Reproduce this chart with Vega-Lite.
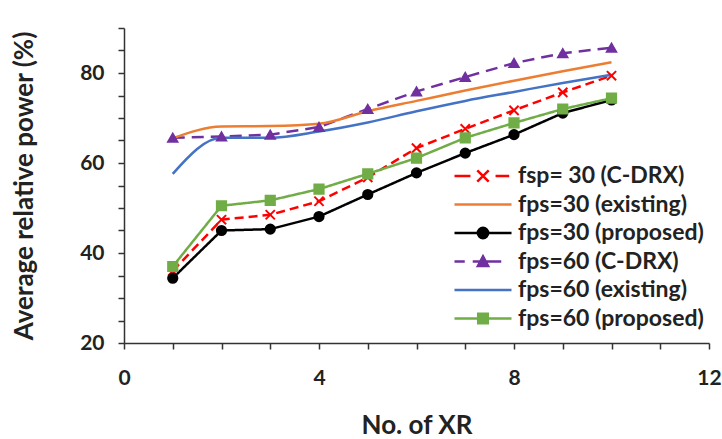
{
  "$schema": "https://vega.github.io/schema/vega-lite/v6.json",
  "width": 585,
  "height": 315,
  "autosize": {"type": "none"},
  "padding": {"left": 124, "top": 28, "right": 13, "bottom": 96},
  "background": "white",
  "config": {
    "view": {"stroke": null},
    "font": "Lato",
    "axis": {
      "grid": false,
      "domainColor": "#333333",
      "domainWidth": 1.5,
      "tickColor": "#333333",
      "tickWidth": 1.5,
      "tickSize": 6,
      "labelFont": "Lato",
      "labelFontSize": 21,
      "labelFontWeight": "bold",
      "labelColor": "#222222",
      "titleFont": "Lato",
      "titleFontSize": 26,
      "titleFontWeight": "bold",
      "titleColor": "#222222"
    }
  },
  "data": {
    "values": [
      {"series": "fsp= 30 (C-DRX)", "xr": 1, "power": 36.0},
      {"series": "fsp= 30 (C-DRX)", "xr": 2, "power": 47.4},
      {"series": "fsp= 30 (C-DRX)", "xr": 3, "power": 48.5},
      {"series": "fsp= 30 (C-DRX)", "xr": 4, "power": 51.5},
      {"series": "fsp= 30 (C-DRX)", "xr": 5, "power": 56.8},
      {"series": "fsp= 30 (C-DRX)", "xr": 6, "power": 63.3},
      {"series": "fsp= 30 (C-DRX)", "xr": 7, "power": 67.6},
      {"series": "fsp= 30 (C-DRX)", "xr": 8, "power": 71.7},
      {"series": "fsp= 30 (C-DRX)", "xr": 9, "power": 75.7},
      {"series": "fsp= 30 (C-DRX)", "xr": 10, "power": 79.4},
      {"series": "fps=30 (existing)", "xr": 1, "power": 65.5},
      {"series": "fps=30 (existing)", "xr": 2, "power": 68.1},
      {"series": "fps=30 (existing)", "xr": 3, "power": 68.2},
      {"series": "fps=30 (existing)", "xr": 4, "power": 68.7},
      {"series": "fps=30 (existing)", "xr": 5, "power": 71.5},
      {"series": "fps=30 (existing)", "xr": 6, "power": 73.8},
      {"series": "fps=30 (existing)", "xr": 7, "power": 76.1},
      {"series": "fps=30 (existing)", "xr": 8, "power": 78.3},
      {"series": "fps=30 (existing)", "xr": 9, "power": 80.4},
      {"series": "fps=30 (existing)", "xr": 10, "power": 82.4},
      {"series": "fps=30 (proposed)", "xr": 1, "power": 34.4},
      {"series": "fps=30 (proposed)", "xr": 2, "power": 45.0},
      {"series": "fps=30 (proposed)", "xr": 3, "power": 45.3},
      {"series": "fps=30 (proposed)", "xr": 4, "power": 48.1},
      {"series": "fps=30 (proposed)", "xr": 5, "power": 53.0},
      {"series": "fps=30 (proposed)", "xr": 6, "power": 57.8},
      {"series": "fps=30 (proposed)", "xr": 7, "power": 62.2},
      {"series": "fps=30 (proposed)", "xr": 8, "power": 66.3},
      {"series": "fps=30 (proposed)", "xr": 9, "power": 71.1},
      {"series": "fps=30 (proposed)", "xr": 10, "power": 74.0},
      {"series": "fps=60 (C-DRX)", "xr": 1, "power": 65.6},
      {"series": "fps=60 (C-DRX)", "xr": 2, "power": 65.9},
      {"series": "fps=60 (C-DRX)", "xr": 3, "power": 66.3},
      {"series": "fps=60 (C-DRX)", "xr": 4, "power": 68.0},
      {"series": "fps=60 (C-DRX)", "xr": 5, "power": 72.0},
      {"series": "fps=60 (C-DRX)", "xr": 6, "power": 75.9},
      {"series": "fps=60 (C-DRX)", "xr": 7, "power": 79.1},
      {"series": "fps=60 (C-DRX)", "xr": 8, "power": 82.2},
      {"series": "fps=60 (C-DRX)", "xr": 9, "power": 84.4},
      {"series": "fps=60 (C-DRX)", "xr": 10, "power": 85.6},
      {"series": "fps=60 (existing)", "xr": 1, "power": 57.6},
      {"series": "fps=60 (existing)", "xr": 2, "power": 65.6},
      {"series": "fps=60 (existing)", "xr": 3, "power": 65.6},
      {"series": "fps=60 (existing)", "xr": 4, "power": 67.0},
      {"series": "fps=60 (existing)", "xr": 5, "power": 69.0},
      {"series": "fps=60 (existing)", "xr": 6, "power": 71.5},
      {"series": "fps=60 (existing)", "xr": 7, "power": 73.8},
      {"series": "fps=60 (existing)", "xr": 8, "power": 75.8},
      {"series": "fps=60 (existing)", "xr": 9, "power": 77.8},
      {"series": "fps=60 (existing)", "xr": 10, "power": 79.6},
      {"series": "fps=60 (proposed)", "xr": 1, "power": 37.0},
      {"series": "fps=60 (proposed)", "xr": 2, "power": 50.5},
      {"series": "fps=60 (proposed)", "xr": 3, "power": 51.7},
      {"series": "fps=60 (proposed)", "xr": 4, "power": 54.2},
      {"series": "fps=60 (proposed)", "xr": 5, "power": 57.6},
      {"series": "fps=60 (proposed)", "xr": 6, "power": 61.1},
      {"series": "fps=60 (proposed)", "xr": 7, "power": 65.6},
      {"series": "fps=60 (proposed)", "xr": 8, "power": 68.9},
      {"series": "fps=60 (proposed)", "xr": 9, "power": 72.0},
      {"series": "fps=60 (proposed)", "xr": 10, "power": 74.4}
    ]
  },
  "encoding": {
    "x": {
      "field": "xr", "type": "quantitative",
      "scale": {"domain": [0, 12], "nice": false, "zero": false},
      "axis": {
        "title": "No. of XR",
        "values": [0,1,2,3,4,5,6,7,8,9,10,11,12],
        "labelExpr": "datum.value % 4 === 0 ? datum.label : ''",
        "labelPadding": 18,
        "titlePadding": 24,
        "labelFlush": false
      }
    },
    "y": {
      "field": "power", "type": "quantitative",
      "scale": {"domain": [20, 90], "nice": false, "zero": false},
      "axis": {
        "title": "Average relative power (%)",
        "values": [20,25,30,35,40,45,50,55,60,65,70,75,80,85,90],
        "labelExpr": "datum.value % 20 === 0 ? datum.label : ''",
        "labelPadding": 14,
        "titlePadding": 42,
        "labelFlush": false
      }
    }
  },
  "layer": [
    {
      "transform": [{"filter": "indexof(datum.series, 'existing') < 0"}],
      "mark": {"type": "line", "strokeWidth": 2.5, "interpolate": "linear"},
      "encoding": {
        "color": {
          "field": "series", "type": "nominal",
          "scale": {
            "domain": ["fsp= 30 (C-DRX)", "fps=30 (existing)", "fps=30 (proposed)", "fps=60 (C-DRX)", "fps=60 (existing)", "fps=60 (proposed)"],
            "range": ["#FF0000", "#ED7D31", "#000000", "#7030A0", "#4472C4", "#70AD47"]
          },
          "legend": {
            "title": null,
            "orient": "none",
            "legendX": 346,
            "legendY": 135,
            "padding": 0,
            "symbolSize": 520,
            "symbolStrokeWidth": 2.5,
            "labelOffset": 22,
            "labelFont": "Lato",
            "labelFontSize": 23,
            "labelFontWeight": "bold",
            "labelColor": "#222222",
            "labelLimit": 300,
            "rowPadding": 3.5,
            "encode": {
              "symbols": {
                "update": {
                  "fill": {"scale": "color", "field": "value"},
                  "stroke": {"scale": "color", "field": "value"},
                  "strokeDash": {"value": []},
                  "shape": {"signal": "datum.value === 'fsp= 30 (C-DRX)' ? 'M-2.5,0H-1.1M1.1,0H2.3M-0.5,-0.5L0.5,0.5M-0.5,0.5L0.5,-0.5' : datum.value === 'fps=30 (proposed)' ? 'M-2.5,0H2.5M-0.45,0A0.45,0.45 0 1,0 0.45,0A0.45,0.45 0 1,0 -0.45,0Z' : datum.value === 'fps=60 (C-DRX)' ? 'M-2.5,0H-1.6M-0.9,0H1.6M-0.45,0.4L0,-0.45L0.45,0.4Z' : datum.value === 'fps=60 (proposed)' ? 'M-2.5,0H2.5M-0.42,-0.42H0.42V0.42H-0.42Z' : 'M-2.5,0H2.5'"}
                }
              }
            }
          }
        },
        "strokeDash": {
          "field": "series", "type": "nominal",
          "scale": {
            "domain": ["fsp= 30 (C-DRX)", "fps=30 (proposed)", "fps=60 (C-DRX)", "fps=60 (proposed)"],
            "range": [[9, 5], [1, 0], [12, 7], [1, 0]]
          },
          "legend": null
        }
      }
    },
    {
      "transform": [{"filter": "indexof(datum.series, 'existing') >= 0"}],
      "mark": {"type": "line", "strokeWidth": 2.5, "interpolate": "monotone"},
      "encoding": {
        "color": {"field": "series", "type": "nominal"}
      }
    },
    {
      "transform": [{"filter": "indexof(datum.series, 'existing') < 0"}],
      "mark": {"type": "point", "filled": true, "opacity": 1, "strokeWidth": 2, "size": 85},
      "encoding": {
        "color": {"field": "series", "type": "nominal"},
        "stroke": {
          "field": "series", "type": "nominal",
          "scale": {
            "domain": ["fsp= 30 (C-DRX)", "fps=30 (proposed)", "fps=60 (C-DRX)", "fps=60 (proposed)"],
            "range": ["#FF0000", "#000000", "#7030A0", "#70AD47"]
          },
          "legend": null
        },
        "shape": {
          "field": "series", "type": "nominal",
          "scale": {
            "domain": ["fsp= 30 (C-DRX)", "fps=30 (proposed)", "fps=60 (C-DRX)", "fps=60 (proposed)"],
            "range": ["M-1,-1L1,1M-1,1L1,-1", "circle", "triangle-up", "square"]
          },
          "legend": null
        }
      }
    }
  ]
}
